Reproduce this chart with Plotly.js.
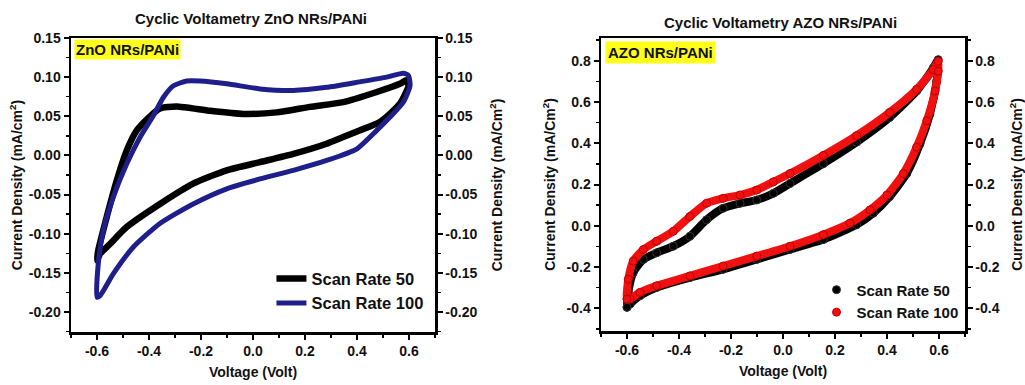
<!DOCTYPE html>
<html>
<head>
<meta charset="utf-8">
<script src="https://cdn.plot.ly/plotly-3.0.1.min.js"></script>
<style>html,body{margin:0;padding:0;background:#fff;}#chart{width:1025px;height:385px;}</style>
</head>
<body>
<div id="chart"></div>
<script>
// ---- Data ----
const seriesNames = ["Scan Rate 50", "Scan Rate 100"];
const plotTitles = ["Cyclic Voltametry ZnO NRs/PANi", "Cyclic Voltametry AZO NRs/PANi"];
const sampleLabels = ["ZnO NRs/PANi", "AZO NRs/PANi"];

// ZnO NRs/PANi, scan rate 50
const zno50V = [-0.6, -0.595, -0.563, -0.524, -0.486, -0.447, -0.396, -0.358, -0.294, -0.165, -0.037, 0.091, 0.219, 0.347, 0.476, 0.565, 0.59, 0.598, 0.565, 0.488, 0.41, 0.283, 0.155, 0.027, -0.101, -0.23, -0.358, -0.486, -0.55, -0.588, -0.6];
const zno50J = [-0.134, -0.121, -0.079, -0.032, 0.006, 0.032, 0.050, 0.060, 0.0626, 0.057, 0.053, 0.055, 0.062, 0.068, 0.081, 0.0915, 0.096, 0.089, 0.066, 0.0426, 0.032, 0.015, 0.002, -0.0085, -0.019, -0.036, -0.062, -0.0915, -0.113, -0.1255, -0.134];
// ZnO NRs/PANi, scan rate 100
const zno100V = [-0.6, -0.595, -0.576, -0.537, -0.486, -0.435, -0.383, -0.345, -0.306, -0.255, -0.204, -0.101, 0.027, 0.155, 0.283, 0.41, 0.514, 0.578, 0.598, 0.604, 0.578, 0.527, 0.476, 0.40, 0.283, 0.155, 0.027, -0.101, -0.23, -0.358, -0.46, -0.537, -0.588, -0.6];
const zno100J = [-0.181, -0.138, -0.096, -0.053, -0.011, 0.023, 0.051, 0.074, 0.089, 0.095, 0.095, 0.0915, 0.085, 0.083, 0.087, 0.094, 0.100, 0.105, 0.102, 0.089, 0.068, 0.049, 0.032, 0.0085, -0.0064, -0.019, -0.030, -0.0426, -0.062, -0.087, -0.117, -0.151, -0.179, -0.181];
// AZO NRs/PANi, scan rate 50
const azo50V = [-0.6, -0.595, -0.576, -0.537, -0.486, -0.422, -0.358, -0.294, -0.23, -0.165, -0.101, -0.037, 0.027, 0.155, 0.283, 0.41, 0.514, 0.578, 0.597, 0.591, 0.565, 0.527, 0.476, 0.41, 0.347, 0.283, 0.155, 0.027, -0.101, -0.23, -0.358, -0.486, -0.55, -0.588, -0.6];
const azo50J = [-0.395, -0.323, -0.227, -0.163, -0.131, -0.099, -0.051, 0.029, 0.085, 0.109, 0.125, 0.157, 0.205, 0.301, 0.405, 0.525, 0.653, 0.765, 0.805, 0.70, 0.541, 0.397, 0.253, 0.141, 0.061, 0.005, -0.067, -0.115, -0.163, -0.211, -0.251, -0.299, -0.339, -0.379, -0.395];
// AZO NRs/PANi, scan rate 100
const azo100V = [-0.6, -0.595, -0.576, -0.537, -0.486, -0.422, -0.358, -0.294, -0.23, -0.165, -0.101, -0.037, 0.027, 0.155, 0.283, 0.41, 0.514, 0.578, 0.597, 0.597, 0.585, 0.553, 0.514, 0.463, 0.40, 0.335, 0.258, 0.155, 0.027, -0.101, -0.23, -0.358, -0.486, -0.55, -0.588, -0.6];
const azo100J = [-0.355, -0.259, -0.171, -0.115, -0.075, -0.027, 0.045, 0.109, 0.133, 0.149, 0.173, 0.213, 0.253, 0.341, 0.437, 0.549, 0.661, 0.757, 0.797, 0.749, 0.653, 0.509, 0.381, 0.253, 0.149, 0.077, 0.013, -0.043, -0.099, -0.147, -0.195, -0.243, -0.291, -0.323, -0.355, -0.355];

const xTickVals = [-0.6, -0.4, -0.2, 0.0, 0.2, 0.4, 0.6];
const xTickText = ["-0.6", "-0.4", "-0.2", "0.0", "0.2", "0.4", "0.6"];
const yTickValsL = [-0.20, -0.15, -0.10, -0.05, 0.00, 0.05, 0.10, 0.15];
const yTickTextL = ["-0.20", "-0.15", "-0.10", "-0.05", "0.00", "0.05", "0.10", "0.15"];
const yTickValsR = [-0.4, -0.2, 0.0, 0.2, 0.4, 0.6, 0.8];
const yTickTextR = ["-0.4", "-0.2", "0.0", "0.2", "0.4", "0.6", "0.8"];

// ---- Styles ----
const FONT = "Liberation Sans, Arial, sans-serif";
const tickFont = {family: FONT, size: 14, color: "#111", weight: "bold"};
const titleFont = {family: FONT, size: 14, color: "#111", weight: "bold"};
const BLUE = "#1f1f8c";
const RED = "#f01010";

const traces = [
  {x: zno50V, y: zno50J, xaxis: "x", yaxis: "y", mode: "lines", name: seriesNames[0],
   line: {color: "#000", width: 6.5, shape: "spline", smoothing: 0.6}, legend: "legend"},
  {x: zno100V, y: zno100J, xaxis: "x", yaxis: "y", mode: "lines", name: seriesNames[1],
   line: {color: BLUE, width: 5, shape: "spline", smoothing: 0.6}, legend: "legend"},
  // invisible copy so the right-hand y axis of the left panel is drawn
  {x: zno50V, y: zno50J, xaxis: "x", yaxis: "y2", mode: "lines", showlegend: false,
   line: {color: "rgba(0,0,0,0)", width: 0}, hoverinfo: "skip"},
  {x: azo50V, y: azo50J, xaxis: "x2", yaxis: "y3", mode: "lines", showlegend: false,
   line: {color: "#000", width: 8, shape: "spline", smoothing: 0.6}},
  {x: azo50V, y: azo50J, xaxis: "x2", yaxis: "y3", mode: "markers", name: seriesNames[0], legend: "legend2",
   marker: {symbol: "circle", size: 8, color: "#000", line: {color: "#333", width: 1}}},
  {x: azo100V, y: azo100J, xaxis: "x2", yaxis: "y3", mode: "lines", showlegend: false,
   line: {color: RED, width: 8, shape: "spline", smoothing: 0.6}},
  {x: azo100V, y: azo100J, xaxis: "x2", yaxis: "y3", mode: "markers", name: seriesNames[1], legend: "legend2",
   marker: {symbol: "circle", size: 8, color: RED, line: {color: "#c00000", width: 1}}},
  // invisible copy so the right-hand y axis of the right panel is drawn
  {x: azo50V, y: azo50J, xaxis: "x2", yaxis: "y4", mode: "lines", showlegend: false,
   line: {color: "rgba(0,0,0,0)", width: 0}, hoverinfo: "skip"}
];

function xAxis(domain, anchor) {
  return {
    domain: domain, anchor: anchor, range: [-0.7, 0.7],
    tickmode: "array", tickvals: xTickVals, ticktext: xTickText,
    ticks: "outside", ticklen: 5, tickwidth: 2, tickcolor: "#000",
    minor: {dtick: 0.1, tick0: 0, ticks: "outside", ticklen: 3, tickwidth: 1.5, tickcolor: "#000"},
    showline: true, linewidth: 2.5, linecolor: "#000", mirror: true,
    showgrid: false, zeroline: false, tickfont: tickFont,
    title: {text: "Voltage (Volt)", font: titleFont, standoff: 9}
  };
}
function yAxis(domain, anchor, range, vals, txt, minorD, side, overlay, standoff) {
  const a = {
    domain: domain, anchor: anchor, range: range, side: side,
    tickmode: "array", tickvals: vals, ticktext: txt,
    ticks: "outside", ticklen: 5, tickwidth: 2, tickcolor: "#000",
    minor: {dtick: minorD, tick0: 0, ticks: "outside", ticklen: 3, tickwidth: 1.5, tickcolor: "#000"},
    showline: true, linewidth: 2.5, linecolor: "#000",
    showgrid: false, zeroline: false, tickfont: tickFont,
    title: {text: "Current Density (mA/cm<sup>2</sup>)", font: titleFont, standoff: standoff}
  };
  if (overlay) a.overlaying = overlay;
  return a;
}

const dL = [71/1025, 435/1025];
const dR = [601/1025, 965/1025];
const dyL = [53/385, 347/385];
const dyR = [54/385, 347/385];

const y1 = yAxis(dyL, "x", [-0.2255, 0.15], yTickValsL, yTickTextL, 0.025, "left", null, 3);
const y2 = yAxis(dyL, "x", [-0.2255, 0.15], yTickValsL, yTickTextL, 0.025, "right", "y", 16);
y2.title.text = "Current Density (mA/Cm<sup>2</sup>)";
const y3 = yAxis(dyR, "x2", [-0.51, 0.91], yTickValsR, yTickTextR, 0.1, "left", null, 8);
y3.title.text = "Current Density (mA/Cm<sup>2</sup>)";
const y4 = yAxis(dyR, "x2", [-0.51, 0.91], yTickValsR, yTickTextR, 0.1, "right", "y3", 15);
y4.title.text = "Current Density (mA/Cm<sup>2</sup>)";

const layout = {
  width: 1025, height: 385,
  margin: {l: 0, r: 0, t: 0, b: 0},
  paper_bgcolor: "#fff", plot_bgcolor: "#fff",
  showlegend: true,
  xaxis: xAxis(dL, "y"),
  xaxis2: xAxis(dR, "y3"),
  yaxis: y1, yaxis2: y2, yaxis3: y3, yaxis4: y4,
  legend: {x: 0.418, xanchor: "right", y: 0.168, yanchor: "bottom", bgcolor: "rgba(0,0,0,0)",
           font: {family: FONT, size: 16.5, color: "#111", weight: "bold"}, tracegroupgap: 0, itemwidth: 30},
  legend2: {x: 0.94, xanchor: "right", y: 0.147, yanchor: "bottom", bgcolor: "rgba(0,0,0,0)",
            font: {family: FONT, size: 15, color: "#111", weight: "bold"}, tracegroupgap: 0, itemwidth: 30},
  annotations: [
    {text: plotTitles[0], xref: "paper", yref: "paper", x: 251/1025, y: 1 - 18/385,
     xanchor: "center", yanchor: "middle", showarrow: false, font: {family: FONT, size: 15, color: "#111", weight: "bold"}},
    {text: plotTitles[1], xref: "paper", yref: "paper", x: 780/1025, y: 1 - 22/385,
     xanchor: "center", yanchor: "middle", showarrow: false, font: {family: FONT, size: 15, color: "#111", weight: "bold"}},
    {text: sampleLabels[0], xref: "paper", yref: "paper", x: 74/1025, y: 1 - 39/385,
     xanchor: "left", yanchor: "top", showarrow: false, bgcolor: "#ffff1a", borderpad: 1,
     font: {family: FONT, size: 15, color: "#111", weight: "bold"}},
    {text: sampleLabels[1], xref: "paper", yref: "paper", x: 605/1025, y: 1 - 41/385,
     xanchor: "left", yanchor: "top", showarrow: false, bgcolor: "#ffff1a", borderpad: 2,
     font: {family: FONT, size: 15, color: "#111", weight: "bold"}}
  ]
};

Plotly.newPlot("chart", traces, layout, {staticPlot: true});
</script>
</body>
</html>
